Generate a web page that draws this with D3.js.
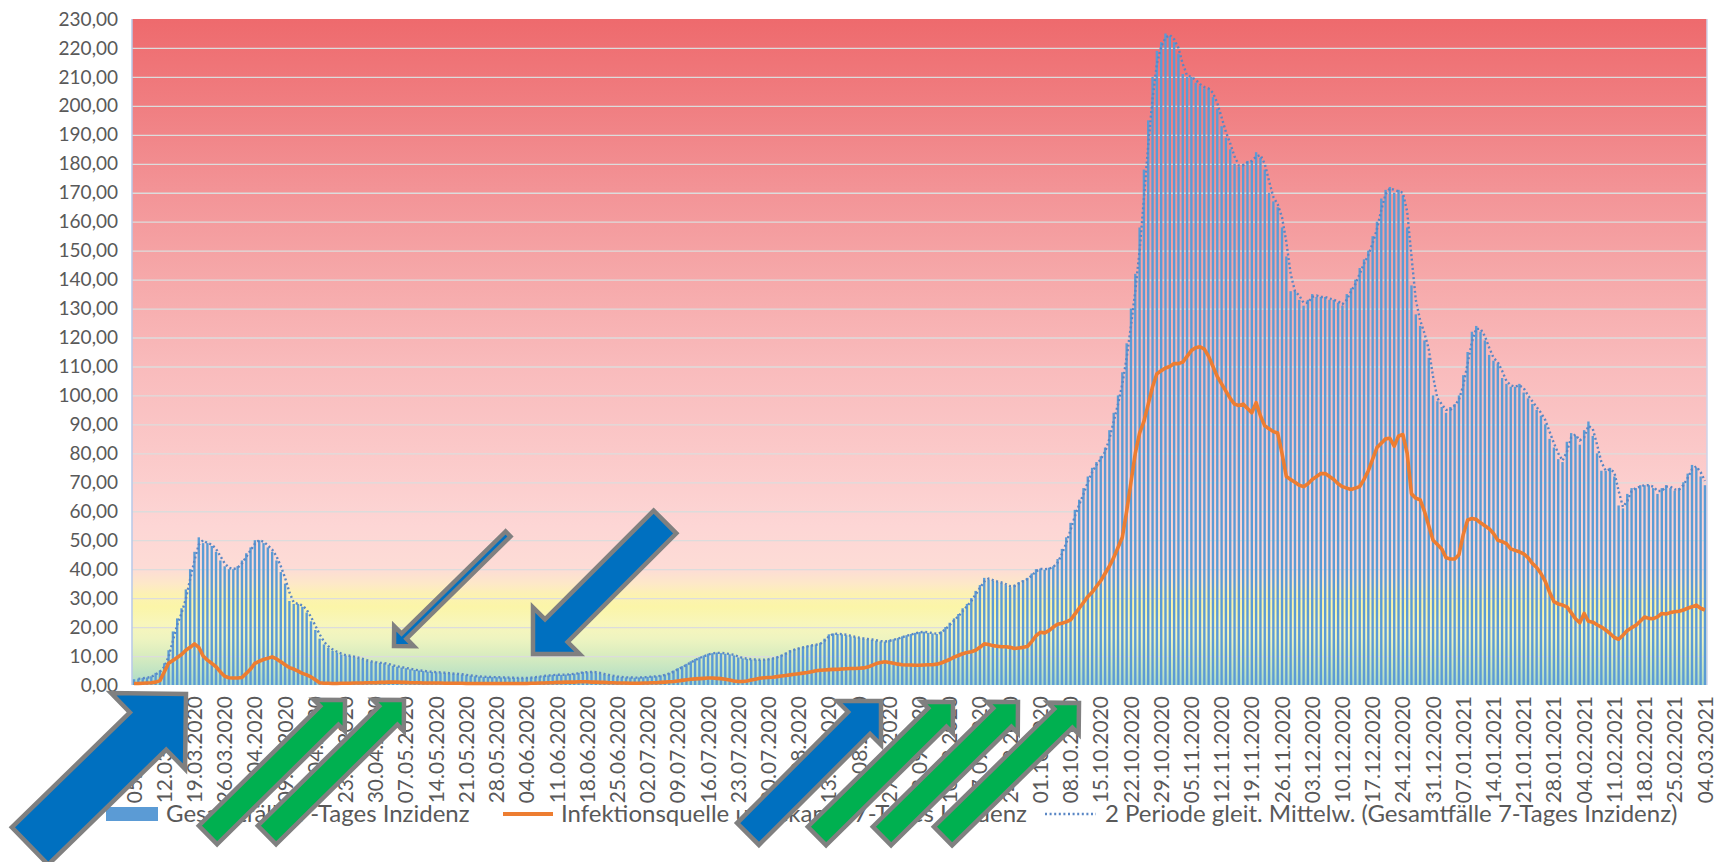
<!DOCTYPE html>
<html><head><meta charset="utf-8">
<script src="https://cdn.jsdelivr.net/npm/d3@7"></script>
<style>
html,body{margin:0;padding:0;background:#fff;}
svg{display:block;}
</style></head><body>
<svg id="chart" width="1716" height="862"></svg>
<script>
// ---------- DATA ----------
const tickLabels = ["05.03.2020","12.03.2020","19.03.2020","26.03.2020","02.04.2020","09.04.2020","16.04.2020","23.04.2020","30.04.2020","07.05.2020","14.05.2020","21.05.2020","28.05.2020","04.06.2020","11.06.2020","18.06.2020","25.06.2020","02.07.2020","09.07.2020","16.07.2020","23.07.2020","30.07.2020","06.08.2020","13.08.2020","20.08.2020","27.08.2020","03.09.2020","10.09.2020","17.09.2020","24.09.2020","01.10.2020","08.10.2020","15.10.2020","22.10.2020","29.10.2020","05.11.2020","12.11.2020","19.11.2020","26.11.2020","03.12.2020","10.12.2020","17.12.2020","24.12.2020","31.12.2020","07.01.2021","14.01.2021","21.01.2021","28.01.2021","04.02.2021","11.02.2021","18.02.2021","25.02.2021","04.03.2021"];

// Gesamtfälle 7-Tages Inzidenz, one value per day from 05.03.2020 to 04.03.2021
const gesamtInzidenz = [
2.0,2.2,2.4,2.6,3.0,4.2,5.0,
7.5,12.0,18.5,23.0,26.5,33.0,40.0,
46.0,51.0,49.0,49.0,48.0,46.0,43.0,
41.0,40.0,40.0,41.0,43.0,45.5,47.5,
50.0,50.0,49.0,47.5,46.0,43.0,39.0,
35.0,29.0,28.0,28.0,27.0,25.0,22.0,
19.0,16.0,14.0,12.8,11.8,11.2,10.5,
10.2,10.0,9.6,9.2,8.8,8.3,8.0,
7.8,7.6,7.5,7.0,6.6,6.3,6.0,
5.8,5.4,5.2,5.0,4.8,4.6,4.5,
4.4,4.3,4.2,4.0,3.9,3.8,3.6,
3.4,3.2,3.0,2.9,2.8,2.8,2.7,
2.7,2.6,2.6,2.5,2.5,2.4,2.4,
2.5,2.6,2.8,3.0,3.2,3.3,3.5,
3.6,3.5,3.6,3.8,3.9,4.2,4.5,
4.4,4.6,4.3,4.0,3.6,3.4,3.0,
2.9,2.7,2.6,2.6,2.5,2.6,2.7,
2.8,3.0,3.0,3.3,3.6,4.2,5.0,
5.8,6.5,7.3,8.2,9.0,9.6,10.2,
10.8,11.0,11.2,11.0,10.8,10.6,10.2,
9.5,9.2,9.0,8.8,8.8,8.6,8.8,
9.0,9.3,9.8,10.4,11.2,12.0,12.4,
12.8,13.2,13.5,13.8,14.0,14.5,16.0,
17.5,17.8,17.6,17.5,17.2,16.8,16.5,
16.2,16.0,15.8,15.6,15.3,15.0,15.0,
15.5,15.8,16.2,16.8,17.2,17.6,18.0,
18.3,18.4,18.0,17.8,17.6,18.5,20.0,
21.5,23.0,24.5,26.5,28.0,30.0,32.5,
34.5,37.0,36.5,36.0,35.6,35.2,34.5,
33.8,34.6,35.5,36.2,37.0,38.5,40.0,
40.2,39.8,40.5,41.0,43.5,47.0,51.0,
56.0,60.5,64.0,68.0,72.0,75.0,77.0,
79.0,82.0,88.0,94.0,100.0,108.0,118.0,
130.0,142.0,158.0,178.0,195.0,210.0,219.0,
222.0,225.0,224.0,222.0,218.0,211.0,210.0,
210.0,208.0,207.0,206.0,206.0,203.0,199.0,
193.0,189.0,185.0,180.0,179.0,180.0,181.0,
181.0,184.0,182.0,178.0,170.0,167.0,165.0,
158.0,148.0,136.0,136.0,133.0,131.0,133.0,
135.0,134.0,134.0,134.0,133.0,133.0,132.0,
131.0,135.0,137.0,140.0,144.0,147.0,150.0,
155.0,160.0,168.0,171.0,172.0,170.0,171.0,
169.0,158.0,138.0,128.0,124.0,119.0,113.0,
100.0,98.0,96.0,94.0,96.0,97.0,100.0,
107.0,115.0,122.0,124.0,122.0,119.0,114.0,
112.0,111.0,106.0,104.0,103.0,103.0,104.0,
101.0,99.0,97.0,95.0,93.0,90.0,85.0,
82.0,78.0,77.0,84.0,87.0,86.0,83.0,
88.0,91.0,86.0,80.0,74.0,74.0,75.0,
72.0,62.0,61.0,66.0,68.0,68.0,69.0,
69.0,69.0,68.0,66.0,68.0,69.0,68.0,
67.0,68.0,70.0,73.0,76.0,75.0,72.0,
69.0];

// Infektionsquelle unbekannt 7-Tages Inzidenz
const unbekanntInzidenz = [
0.5,0.5,0.6,0.7,0.8,1.0,1.5,
4.5,7.5,8.5,9.5,10.5,12.0,13.0,
14.2,13.0,10.0,8.6,7.5,6.3,4.5,
3.0,2.5,2.4,2.4,2.6,4.0,5.5,
7.5,8.2,8.8,9.2,9.7,9.0,8.0,
7.0,6.0,5.5,4.8,4.0,3.5,2.8,
1.8,0.8,0.6,0.6,0.5,0.5,0.6,
0.6,0.6,0.7,0.7,0.7,0.8,0.8,
0.8,0.9,0.9,1.0,1.0,1.0,0.9,
0.9,0.8,0.8,0.8,0.7,0.7,0.7,
0.7,0.7,0.6,0.6,0.6,0.6,0.6,
0.5,0.5,0.5,0.5,0.5,0.5,0.5,
0.5,0.5,0.5,0.5,0.5,0.5,0.5,
0.5,0.6,0.6,0.7,0.7,0.8,0.8,
0.9,0.9,1.0,1.0,1.0,1.1,1.1,
1.1,1.0,1.0,0.9,0.9,0.8,0.8,
0.7,0.7,0.7,0.6,0.6,0.6,0.7,
0.7,0.8,0.8,0.9,1.0,1.1,1.2,
1.4,1.6,1.8,2.0,2.1,2.2,2.3,
2.4,2.4,2.3,2.2,2.0,1.7,1.4,
1.2,1.2,1.4,1.7,2.0,2.3,2.5,
2.6,2.7,2.9,3.1,3.3,3.5,3.7,
3.9,4.1,4.3,4.6,4.9,5.1,5.2,
5.3,5.4,5.4,5.5,5.6,5.7,5.7,
5.8,5.9,6.2,6.8,7.4,7.8,8.0,
7.8,7.5,7.2,7.0,6.9,6.9,6.8,
6.8,6.9,7.0,7.0,7.2,7.6,8.2,
8.8,9.6,10.2,10.8,11.2,11.5,12.0,
13.0,14.2,14.0,13.6,13.4,13.2,13.2,
13.0,12.6,12.8,13.0,13.3,15.0,17.0,
18.2,18.0,18.8,20.0,21.0,21.3,21.8,
22.5,24.5,26.5,28.5,30.5,32.0,34.0,
36.0,38.5,41.0,44.0,47.5,51.0,60.0,
70.0,80.0,87.0,91.0,97.0,103.0,107.5,
108.5,109.5,110.0,111.0,111.0,111.5,113.5,
115.5,116.5,116.8,116.0,113.5,110.0,106.5,
104.0,101.5,99.0,97.0,96.5,97.0,95.5,
94.0,97.5,93.0,89.5,88.5,87.5,87.0,
80.0,72.0,71.0,70.0,69.0,68.5,69.5,
71.0,72.0,73.0,73.0,72.0,71.0,69.5,
68.5,68.0,67.5,68.0,68.5,71.0,74.0,
78.0,82.0,83.5,85.0,85.2,82.5,86.0,
86.5,80.0,66.0,64.5,64.0,60.0,55.0,
50.0,48.5,47.0,44.0,43.5,43.5,45.0,
52.0,57.0,57.5,57.2,56.0,55.0,54.0,
52.3,50.0,49.5,48.8,47.0,46.5,46.0,
45.3,44.0,42.0,40.6,38.5,35.8,32.0,
28.8,28.0,27.6,27.0,25.0,22.9,21.5,
24.7,22.0,21.7,20.8,20.0,19.0,17.8,
16.4,15.8,17.2,18.8,19.8,20.6,22.0,
23.5,23.0,22.9,23.5,24.7,24.5,25.0,
25.3,25.5,25.9,26.5,27.0,27.6,26.5,
25.9];

const yTickValues = [0,10,20,30,40,50,60,70,80,90,100,110,120,130,140,150,160,170,180,190,200,210,220,230];
const seriesNames = ["Gesamtfälle 7-Tages Inzidenz","Infektionsquelle unbekannt 7-Tages Inzidenz","2 Periode gleit. Mittelw. (Gesamtfälle 7-Tages Inzidenz)"];

// ---------- LAYOUT / STYLE ----------
const FONT = "Lato, 'Open Sans', sans-serif";
const plot = {left: 132, right: 1707, top: 19, bottom: 685};
const svg = d3.select("#chart");

const y = d3.scaleLinear().domain([0, 230]).range([plot.bottom, plot.top]);
const x = d3.scaleBand().domain(d3.range(gesamtInzidenz.length))
  .range([plot.left, plot.right]).paddingInner(0.45).paddingOuter(0.2);

// background gradient (value -> colour)
const bgStops = [[230,"#ee6a6d"],[200,"#f07e81"],[170,"#f39497"],[140,"#f6a9aa"],[110,"#f9bbbc"],[80,"#fbc9c9"],[55,"#fdd6d5"],[40,"#fddcd6"],[35,"#fde8c8"],[31,"#fcf2b2"],[27,"#fbf5a8"],[21,"#f8f6bc"],[16,"#eef4c0"],[10,"#d8ecbf"],[5,"#c2e4c3"],[0,"#a9d9cb"]];
const grad = svg.append("defs").append("linearGradient").attr("id","bg")
  .attr("x1",0).attr("y1",0).attr("x2",0).attr("y2",1);
grad.selectAll("stop").data(bgStops).join("stop")
  .attr("offset", d => (230 - d[0]) / 230)
  .attr("stop-color", d => d[1]);

svg.append("rect").attr("x", plot.left).attr("y", plot.top)
  .attr("width", plot.right - plot.left).attr("height", plot.bottom - plot.top)
  .attr("fill", "url(#bg)");

// gridlines
const grid = svg.append("g").attr("transform", `translate(${plot.left},0)`)
  .call(d3.axisLeft(y).tickValues(yTickValues.filter(v => v > 0 && v < 230))
    .tickSize(-(plot.right - plot.left)).tickFormat(""));
grid.select(".domain").remove();
grid.selectAll("line").attr("stroke", "#dcdcdc").attr("stroke-width", 1.3);

// plot side borders
svg.append("line").attr("x1", plot.left).attr("x2", plot.left).attr("y1", plot.top).attr("y2", plot.bottom)
  .attr("stroke", "#b7c9e8").attr("stroke-width", 1.5);
svg.append("line").attr("x1", plot.right).attr("x2", plot.right).attr("y1", plot.top).attr("y2", plot.bottom)
  .attr("stroke", "#cfd3ea").attr("stroke-width", 1.5);

// bars
svg.append("g").selectAll("rect").data(gesamtInzidenz).join("rect")
  .attr("x", (d, i) => x(i)).attr("y", d => y(d))
  .attr("width", x.bandwidth()).attr("height", d => y(0) - y(d))
  .attr("fill", "#5b9bd5");

const cx = i => x(i) + x.bandwidth() / 2;

// 2-period moving average (trendline of the bars)
const maPoints = gesamtInzidenz.map((v, i) => i === 0 ? null : [i, (gesamtInzidenz[i - 1] + v) / 2]).filter(Boolean);
svg.append("path").datum(maPoints)
  .attr("d", d3.line().x(d => cx(d[0])).y(d => y(d[1])))
  .attr("fill", "none").attr("stroke", "#5a87c5").attr("stroke-width", 2.4)
  .attr("stroke-dasharray", "2,2.6");

// orange line
svg.append("path").datum(unbekanntInzidenz)
  .attr("d", d3.line().x((d, i) => cx(i)).y(d => y(d)))
  .attr("fill", "none").attr("stroke", "#ed7d31").attr("stroke-width", 3.6)
  .attr("stroke-linejoin", "round");

// y axis labels
const gy = svg.append("g").attr("transform", `translate(${plot.left},0)`)
  .call(d3.axisLeft(y).tickValues(yTickValues).tickSize(0).tickPadding(14)
    .tickFormat(d => d3.format(".2f")(d).replace(".", ",")));
gy.select(".domain").remove();
gy.attr("font-family", FONT).attr("font-size", 19);
gy.selectAll("text").attr("fill", "#595959");

// x axis labels
const gx = svg.append("g").attr("transform", `translate(0,${plot.bottom})`)
  .call(d3.axisBottom(x).tickValues(x.domain().filter(i => i % 7 === 0))
    .tickSize(0).tickFormat(i => tickLabels[i / 7]));
gx.select(".domain").remove();
gx.attr("font-family", FONT).attr("font-size", 21);
gx.selectAll("text").attr("fill", "#595959")
  .attr("transform", "rotate(-90)").attr("text-anchor", "end")
  .attr("x", -11).attr("y", 0).attr("dy", "0.36em");

// legend
const lg = svg.append("g").attr("font-family", FONT).attr("font-size", 24).attr("fill", "#595959");
const ly = 814;
lg.append("rect").attr("x", 106).attr("y", ly - 7).attr("width", 52).attr("height", 14).attr("fill", "#5b9bd5");
lg.append("text").attr("x", 166).attr("y", ly).attr("dy", "0.35em").text(seriesNames[0]);
lg.append("line").attr("x1", 503).attr("x2", 553).attr("y1", ly).attr("y2", ly)
  .attr("stroke", "#ed7d31").attr("stroke-width", 4);
lg.append("text").attr("x", 561).attr("y", ly).attr("dy", "0.35em").text(seriesNames[1]);
lg.append("line").attr("x1", 1045).attr("x2", 1096).attr("y1", ly).attr("y2", ly)
  .attr("stroke", "#5a87c5").attr("stroke-width", 2.4).attr("stroke-dasharray", "2,2.6");
lg.append("text").attr("x", 1105).attr("y", ly).attr("dy", "0.35em").text(seriesNames[2]);

// annotation arrows
function arrowPoints(t, p, w, hw, hl) {
  const dx = p[0] - t[0], dy = p[1] - t[1], L = Math.hypot(dx, dy);
  const ux = dx / L, uy = dy / L, nx = -uy, ny = ux;
  const b = [p[0] - ux * hl, p[1] - uy * hl];
  return [
    [t[0] + nx * w / 2, t[1] + ny * w / 2],
    [b[0] + nx * w / 2, b[1] + ny * w / 2],
    [b[0] + nx * hw / 2, b[1] + ny * hw / 2],
    p,
    [b[0] - nx * hw / 2, b[1] - ny * hw / 2],
    [b[0] - nx * w / 2, b[1] - ny * w / 2],
    [t[0] - nx * w / 2, t[1] - ny * w / 2]
  ];
}
const BLUE = "#0070c0", GREEN = "#00b050";
const arrows = [
  {t:[30,846],  p:[186,694], w:52, hw:106, hl:53, c:BLUE},
  {t:[208,835], p:[345,700], w:26, hw:44, hl:22, c:GREEN},
  {t:[267,835], p:[404,700], w:26, hw:44, hl:22, c:GREEN},
  {t:[508,534], p:[394,646], w:7,  hw:28, hl:14, c:BLUE},
  {t:[665,522], p:[533,654], w:32, hw:66, hl:33, c:BLUE},
  {t:[748,834], p:[881,701], w:31, hw:62, hl:31, c:BLUE},
  {t:[817,836], p:[953,702], w:26, hw:44, hl:22, c:GREEN},
  {t:[882,836], p:[1018,702], w:26, hw:44, hl:22, c:GREEN},
  {t:[943,836], p:[1079,703], w:26, hw:44, hl:22, c:GREEN}
];
svg.append("g").selectAll("polygon").data(arrows).join("polygon")
  .attr("points", a => arrowPoints(a.t, a.p, a.w, a.hw, a.hl).map(q => q.join(",")).join(" "))
  .attr("fill", a => a.c).attr("stroke", "#808080").attr("stroke-width", 4.5)
  .attr("stroke-linejoin", "miter");
</script>
</body></html>
